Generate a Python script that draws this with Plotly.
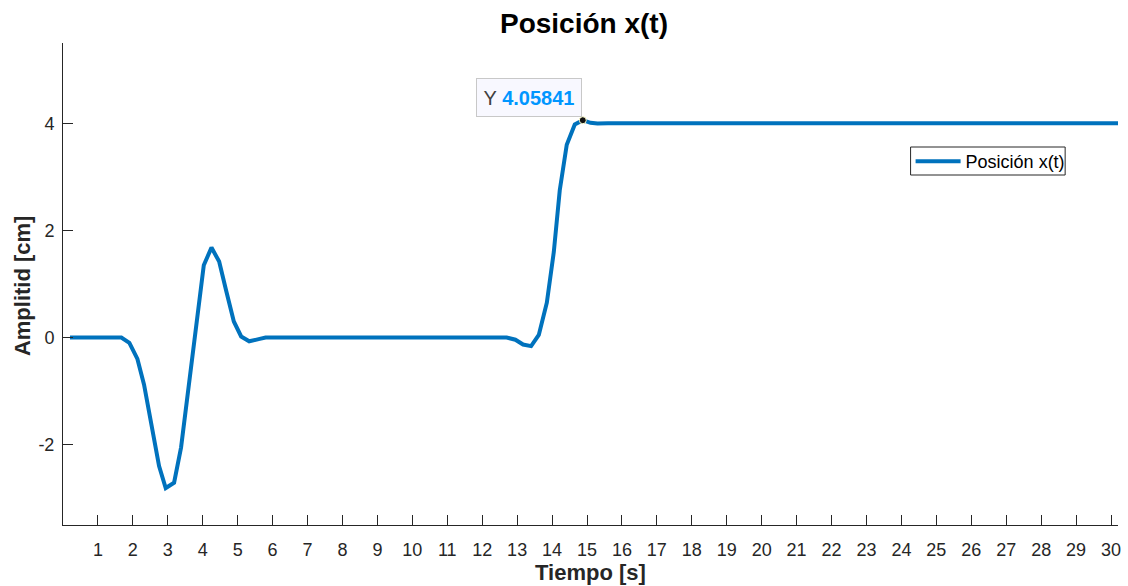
import plotly.graph_objects as go

# ---- data ----
t_s = [0.2, 1.67, 1.90, 2.13, 2.32, 2.75, 2.94, 3.18, 3.38, 3.62, 3.84, 4.03, 4.25, 4.47,
       4.68, 4.89, 5.10, 5.33, 5.60, 5.80, 12.70, 12.95, 13.17, 13.40, 13.62, 13.85,
       14.05, 14.22, 14.42, 14.65, 14.88, 15.10, 15.30, 15.60, 30.2]
x_cm = [0.0, 0.0, -0.10, -0.40, -0.88, -2.40, -2.81, -2.71, -2.05, -0.82, 0.40, 1.35, 1.68, 1.42,
        0.85, 0.30, 0.02, -0.07, -0.03, 0.0, 0.0, -0.04, -0.13, -0.16, 0.05, 0.65,
        1.60, 2.75, 3.60, 3.98, 4.05841, 4.01, 3.995, 4.0, 4.0]

tip_t = [14.88]
tip_y = [4.05841]

x_ticks = list(range(1, 31))
y_ticks = [-2, 0, 2, 4]

FONT = "Liberation Sans, Arial, sans-serif"
AX = "#262626"

# plot area in pixels
L, R, T, B = 63, 1121, 43, 525
PW, PH = R - L, B - T


def px(xp):
    return (xp - L) / PW


def py(yp):
    return (B - yp) / PH


fig = go.Figure()
fig.add_trace(go.Scatter(
    x=t_s, y=x_cm, mode="lines", name="Posición x(t)",
    line=dict(color="#0072BD", width=4),
))
fig.add_trace(go.Scatter(
    x=tip_t, y=tip_y, mode="markers", showlegend=False,
    marker=dict(color="#111111", size=7, line=dict(color="#ffffd0", width=1)),
))

fig.add_annotation(
    x=tip_t[0], y=tip_y[0], xref="x", yref="y",
    text="<span style='color:#404040'>Y </span><b>%.5f</b>" % tip_y[0],
    showarrow=False, xanchor="right", yanchor="bottom", xshift=-1, yshift=3,
    font=dict(family=FONT, size=20, color="#0096FF"),
    bgcolor="#F8F8FF", bordercolor="#C8C8C8", borderwidth=1, borderpad=2,
    width=100, height=33,
)

fig.add_annotation(
    text="Tiempo [s]", xref="paper", yref="paper", x=0.5, y=py(572),
    xanchor="center", yanchor="middle", showarrow=False,
    font=dict(family=FONT, size=22, color=AX, weight="bold"),
)
fig.add_annotation(
    text="Amplitid [cm]", xref="paper", yref="paper", x=px(22), y=py(286),
    xanchor="center", yanchor="middle", showarrow=False, textangle=-90,
    font=dict(family=FONT, size=22, color=AX, weight="bold"),
)

# legend frame
fig.add_shape(type="rect", xref="paper", yref="paper",
              x0=px(913), x1=px(1068), y0=py(175), y1=py(147),
              line=dict(color=AX, width=1), fillcolor="white", layer="above")

fig.update_layout(
    width=1128, height=586,
    margin=dict(l=L, r=1128 - R, t=T, b=586 - B),
    paper_bgcolor="white", plot_bgcolor="white",
    title=dict(text="Posición x(t)", x=584 / 1128, xref="container",
               y=1 - 23 / 586, xanchor="center", yanchor="middle",
               font=dict(family=FONT, size=28, color="black", weight="bold")),
    font=dict(family=FONT, color=AX),
    showlegend=True,
    legend=dict(x=px(913), y=py(143), xanchor="left", yanchor="top",
                bgcolor="rgba(0,0,0,0)", bordercolor="rgba(0,0,0,0)", borderwidth=0,
                font=dict(family=FONT, size=18, color="black"),
                itemwidth=45, tracegroupgap=0),
)
fig.update_xaxes(
    range=[0, 30.2], tickvals=x_ticks, ticktext=[str(v) for v in x_ticks],
    showline=True, linecolor=AX, linewidth=1, mirror=False,
    ticks="inside", ticklen=10, tickcolor=AX, tickwidth=1,
    showgrid=False, zeroline=False,
    tickfont=dict(family=FONT, size=18, color=AX), ticklabelstandoff=8,
)
fig.update_yaxes(
    range=[-3.5, 5.5], tickvals=y_ticks, ticktext=[str(v) for v in y_ticks],
    showline=True, linecolor=AX, linewidth=1, mirror=False,
    ticks="inside", ticklen=10, tickcolor=AX, tickwidth=1,
    showgrid=False, zeroline=False,
    tickfont=dict(family=FONT, size=18, color=AX), ticklabelstandoff=4,
)

fig.write_html("out.html")
